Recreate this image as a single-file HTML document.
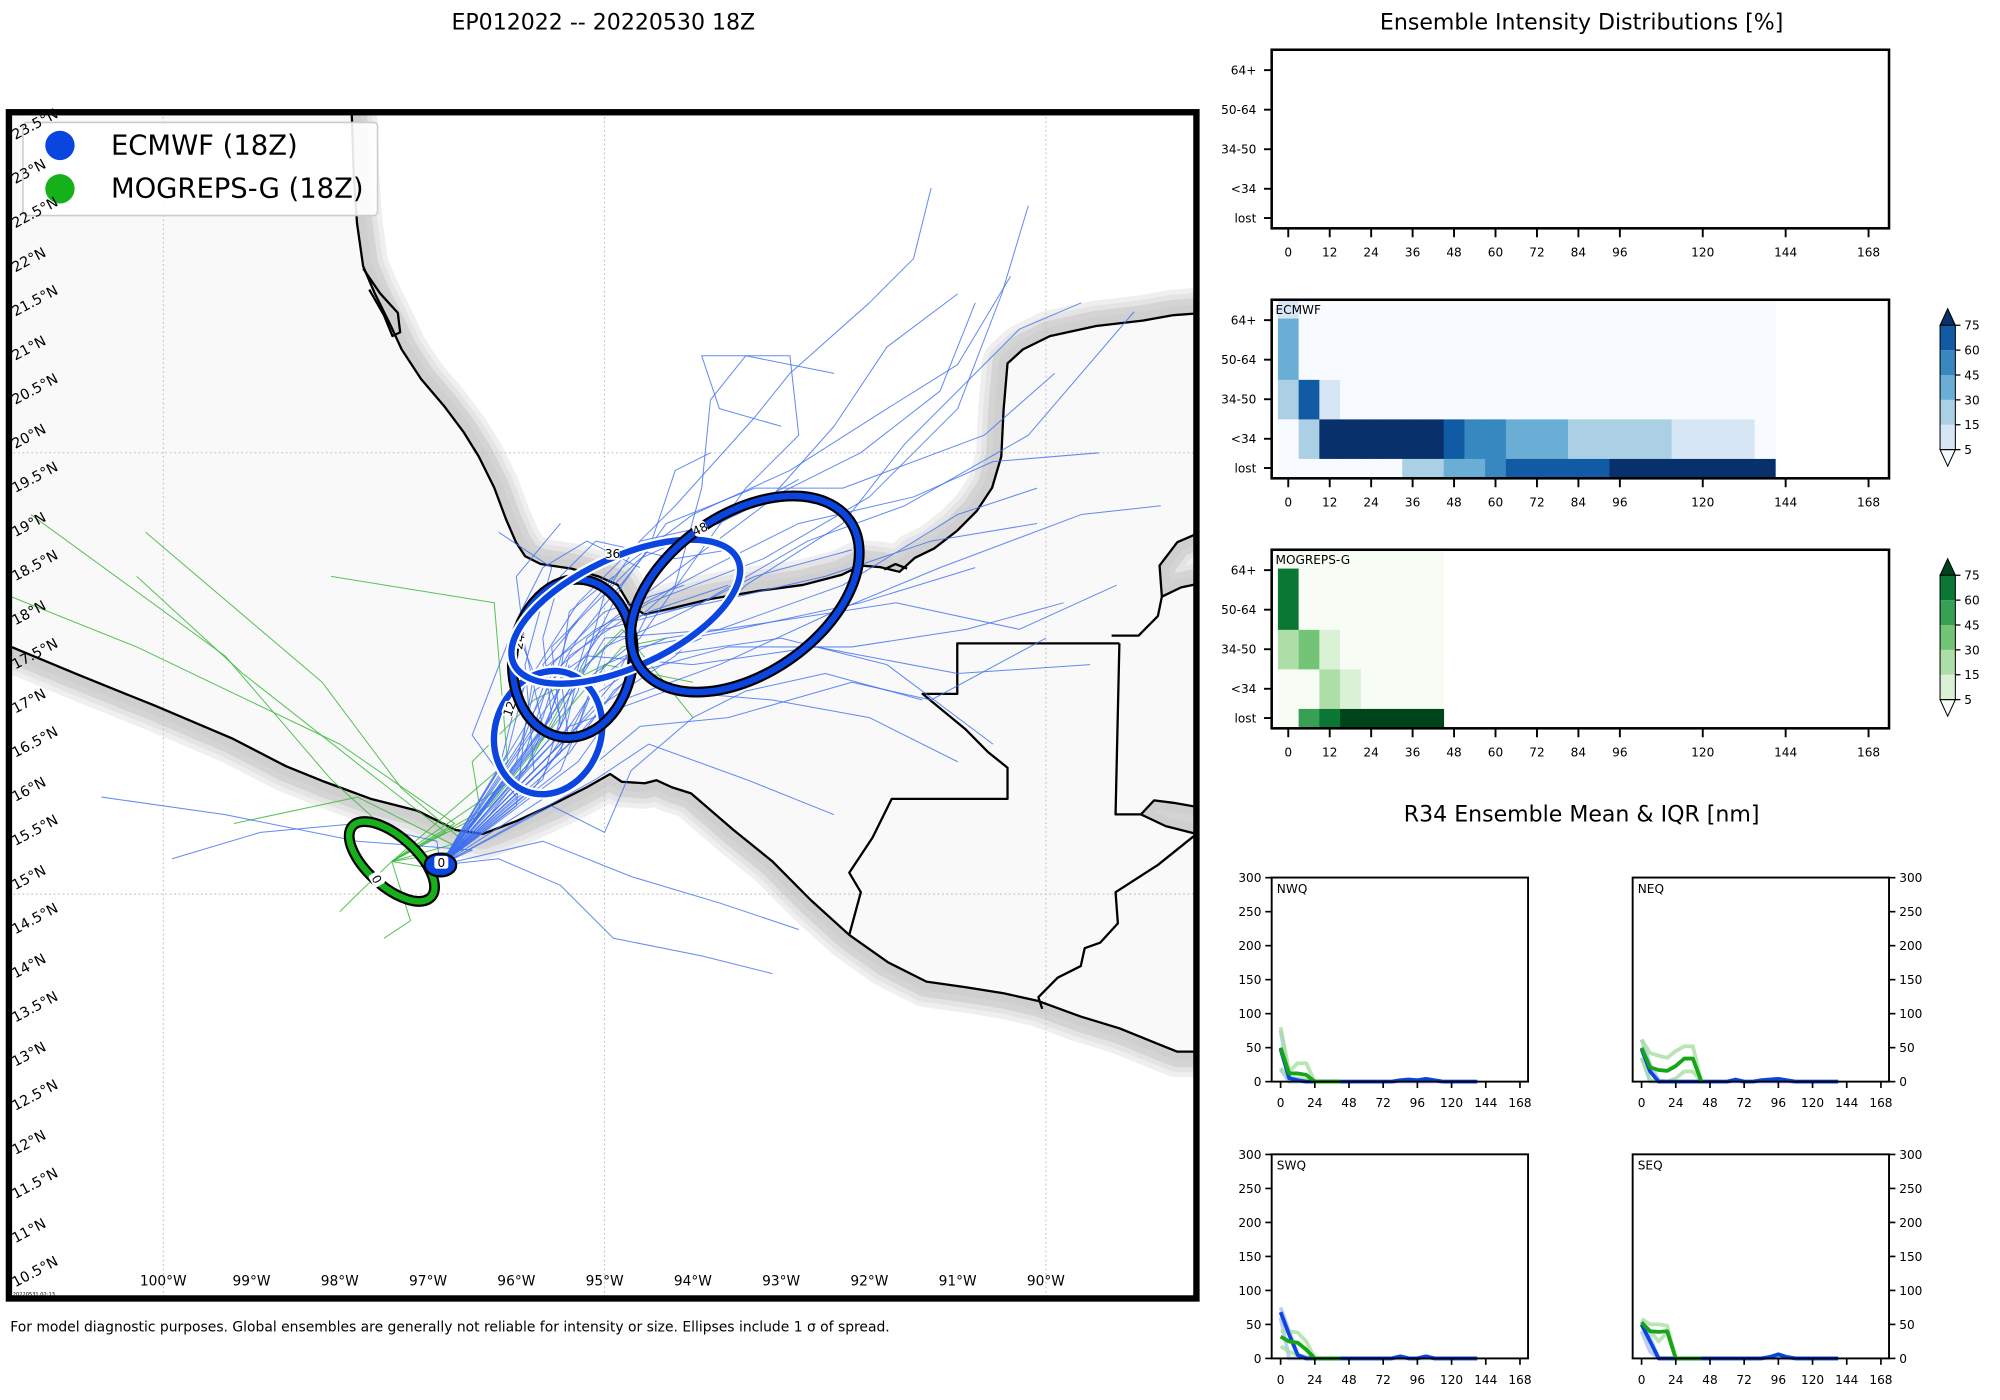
<!DOCTYPE html>
<html><head><meta charset="utf-8"><style>
html,body{margin:0;padding:0;background:#fff;width:2000px;height:1400px;overflow:hidden;}
svg{display:block;font-family:"DejaVu Sans","Liberation Sans",sans-serif;overflow:hidden;}
</style></head><body>
<svg id="fig" width="2000" height="1400" viewBox="0 0 1568 1097.6" preserveAspectRatio="none" xmlns="http://www.w3.org/2000/svg">
<defs>
<clipPath id="mapclip"><rect x="7.5" y="88.5" width="930" height="929"/></clipPath>
<clipPath id="oceanclip"><path id="oceanpath" d=""/></clipPath>
</defs>
<text x="473" y="23" font-size="17.3" text-anchor="middle">EP012022 -- 20220530 18Z</text>
<text x="1240" y="23" font-size="17.3" text-anchor="middle">Ensemble Intensity Distributions [%]</text>
<text x="1240" y="644" font-size="17.3" text-anchor="middle">R34 Ensemble Mean &amp; IQR [nm]</text>
<text x="8" y="1044" font-size="10.9">For model diagnostic purposes. Global ensembles are generally not reliable for intensity or size. Ellipses include 1 σ of spread.</text>
<g id="map"></g>
<g id="heat"></g>
<g id="r34"></g>
</svg>
<script>
// ===== Map data =====
const START_ECM = [-96.86, 15.33];
const START_MOG = [-97.41, 15.37];
const ecmTracks = [
[[-95.7,16.8],[-95.4,17.7],[-94.5,18.3],[-93.2,18.8],[-92.0,19.5],[-91.0,20.5],[-90.5,21.8],[-90.2,22.8]],
[[-95.9,16.6],[-95.6,17.5],[-94.9,18.1],[-93.8,18.3],[-92.5,18.6],[-91.3,19.0],[-90.1,19.2]],
[[-95.5,16.9],[-95.2,17.9],[-94.4,18.5],[-93.2,19.4],[-92.4,20.3],[-91.8,21.2],[-91.0,21.8]],
[[-96.0,16.5],[-95.8,17.3],[-95.2,17.7],[-94.0,17.6],[-92.6,17.8],[-91.0,17.5],[-89.5,17.6]],
[[-95.4,16.8],[-95.0,17.6],[-94.3,17.9],[-93.0,18.1],[-91.7,18.3],[-90.3,18.0],[-89.2,18.5]],
[[-95.6,17.0],[-95.7,17.9],[-95.5,18.6],[-95.1,19.0],[-94.2,18.8],[-93.6,18.9]],
[[-96.2,16.4],[-96.0,17.2],[-95.3,18.3],[-94.2,19.4],[-93.3,20.4],[-92.9,20.9],[-92.0,21.7],[-91.5,22.2],[-91.3,23.0]],
[[-95.8,16.7],[-95.5,17.2],[-94.6,17.9],[-93.9,18.9],[-93.4,19.6],[-92.8,20.2],[-92.9,21.1],[-93.9,21.1],[-93.7,20.5],[-93.0,20.3]],
[[-95.3,16.5],[-94.8,17.2],[-93.7,17.6],[-92.4,18.2],[-91.2,18.7],[-89.6,19.3],[-88.7,19.4]],
[[-95.7,16.9],[-95.9,17.8],[-96.0,18.6],[-95.5,19.2]],
[[-96.0,16.1],[-96.5,16.8],[-96.0,18.1],[-95.7,18.7],[-95.2,19.0],[-94.6,18.7]],
[[-95.2,16.4],[-94.6,16.9],[-93.6,17.0],[-92.2,17.4],[-91.3,17.2],[-90.0,17.9]],
[[-95.5,16.6],[-95.3,17.5],[-94.8,18.5],[-94.3,19.2],[-93.3,19.6],[-92.3,19.6],[-90.7,20.2],[-89.9,20.9]],
[[-95.9,16.6],[-95.2,17.6],[-94.2,18.5],[-93.9,19.6],[-93.8,20.6],[-93.4,21.1],[-92.4,20.9]],
[[-95.4,16.6],[-94.9,17.3],[-94.4,17.7],[-93.0,17.9],[-91.8,17.6],[-90.6,16.7]],
[[-95.1,16.3],[-94.5,16.7],[-93.4,16.3],[-92.4,15.9]],
[[-96.5,15.5],[-97.8,15.6],[-99.3,15.9],[-100.7,16.1]],
[[-96.9,15.6],[-97.8,15.8],[-98.9,15.7],[-99.9,15.4]],
[[-96.2,15.4],[-95.5,15.1],[-94.9,14.5],[-93.9,14.3],[-93.1,14.1]],
[[-95.7,15.6],[-94.7,15.2],[-93.7,14.9],[-92.8,14.6]],
[[-95.6,16.0],[-95.0,15.7],[-94.7,16.4],[-94.0,17.0],[-93.4,17.3],[-92.5,17.5],[-91.4,17.2]],
[[-95.8,16.4],[-95.9,17.6],[-95.6,18.7],[-96.2,19.1]],
[[-95.9,16.9],[-95.3,17.9],[-94.5,18.9],[-94.2,19.8],[-93.8,20.0]],
[[-95.6,17.2],[-95.0,18.0],[-93.9,18.3],[-92.7,19.0],[-91.6,19.4],[-90.2,20.2],[-89.0,21.6]],
[[-95.5,16.9],[-95.6,17.8],[-94.6,18.8],[-93.5,19.3],[-92.1,20.0],[-91.2,20.7],[-90.8,21.7]],
[[-96.1,16.6],[-95.9,17.4],[-95.1,18.0],[-93.8,18.7],[-92.8,19.2],[-91.5,19.5],[-90.6,19.9],[-89.4,20.0]],
[[-95.3,16.8],[-94.7,17.5],[-93.6,17.8],[-92.2,17.8],[-90.9,18.0],[-89.8,18.3]],
[[-96.0,16.3],[-95.4,16.9],[-94.3,17.3],[-93.1,17.2],[-92.0,17.0],[-91.0,16.5]],
[[-95.7,16.5],[-95.1,17.1],[-94.2,17.7],[-93.4,18.5],[-92.3,19.2],[-91.6,20.1],[-90.3,21.4],[-89.6,21.7]],
[[-95.6,16.7],[-95.3,17.3],[-95.0,18.4],[-94.6,19.0],[-93.7,19.2],[-92.8,19.7]],
[[-95.9,16.8],[-95.6,17.6],[-95.0,18.2],[-94.1,18.5]],
[[-95.6,16.6],[-95.2,17.2],[-94.6,17.6],[-93.9,17.9]],
[[-95.4,16.7],[-95.5,17.5],[-95.4,18.2],[-94.9,18.6]],
[[-95.7,16.3],[-95.5,17.0],[-95.7,17.6],[-95.3,18.1]],
[[-96.0,16.0],[-95.9,16.9],[-95.8,17.5],[-96.0,18.0]],
[[-95.3,16.9],[-95.0,17.8],[-94.3,18.1],[-93.3,18.6],[-92.2,18.9]],
[[-95.8,16.2],[-95.4,16.8],[-94.9,17.4],[-94.5,18.2],[-93.6,18.5]],
[[-95.5,16.4],[-95.3,16.9],[-95.1,17.4],[-94.6,17.8],[-93.5,18.0],[-92.1,18.3],[-90.8,18.7]],
[[-96.3,15.9],[-95.9,16.4],[-95.6,17.1],[-95.4,17.6]],
[[-95.6,16.9],[-95.0,17.9],[-93.7,18.0],[-92.3,18.5],[-91.0,19.3],[-90.1,19.6]],
[[-95.7,17.0],[-95.4,18.0],[-94.8,18.7],[-94.0,19.3],[-92.9,19.8],[-91.8,20.5],[-91.0,21.0],[-90.4,22.0]]
];
const mogTracks = [
[[-97.0,15.3],[-98.1,16.3],[-99.3,17.7],[-101.5,19.3]],
[[-96.7,15.8],[-98.0,16.7],[-100.3,17.8],[-101.8,18.4]],
[[-96.8,15.7],[-97.7,16.4],[-99.1,17.5],[-100.3,18.6]],
[[-96.6,15.5],[-97.8,16.1],[-99.2,15.8]],
[[-96.4,15.9],[-96.5,16.5],[-95.8,17.2],[-95.0,17.6],[-94.0,17.4]],
[[-96.3,16.0],[-95.5,17.0],[-94.8,17.8],[-94.3,17.9]],
[[-96.1,16.5],[-96.25,18.3],[-98.1,18.6]],
[[-97.8,15.0],[-98.0,14.8]],
[[-97.2,14.7],[-97.5,14.5]],
[[-95.9,16.4],[-95.3,17.5],[-94.8,18.0],[-94.0,17.0]],
[[-96.6,15.6],[-97.3,16.2],[-98.2,17.4],[-100.2,19.1]]
];
const ellipseLabels = ['0','12','24','36','48'];
const ellipseLon = [-96.86,-95.64,-95.36,-94.76,-93.41];
const ellipseLat = [15.33,16.83,17.67,18.20,18.40];
const ellipseRx = [0.13,0.60,0.68,1.40,1.45];
const ellipseRy = [0.08,0.71,0.90,0.62,0.90];
const ellipseRot = [0,20,8,-25,-35];
const ellipseLabelLon = [-96.85,-96.08,-95.97,-94.91,-93.92];
const ellipseLabelLat = [15.36,17.10,17.86,18.86,19.14];
const mogEllipse = {lon:-97.41, lat:15.37, rx:0.60, ry:0.28, rot:42, labLon:-97.58, labLat:15.17};

const pacificCoast=[[15,705],[100,740],[200,780],[300,822],[370,858],[420,878],[480,900],[540,915],[590,940],[625,945],[670,928],[720,905],[760,885],[790,868],[805,878],[835,880],[850,876],[870,885],[895,893],[950,940],[1000,980],[1050,1030],[1100,1075],[1150,1110],[1200,1135],[1250,1142],[1300,1150],[1345,1160],[1400,1180],[1450,1195],[1500,1215],[1525,1225],[1560,1225]];
const gulfCoast=[[455,10],[458,100],[462,160],[470,215],[485,250],[505,290],[520,322],[545,360],[575,395],[600,428],[620,460],[640,500],[655,540],[668,570],[680,588],[700,598],[740,604],[775,614],[800,625],[815,650],[835,663],[870,655],[920,643],[980,633],[1040,625],[1090,612],[1115,600],[1140,602],[1165,608],[1185,590],[1210,578],[1240,555],[1265,530],[1285,500],[1297,460],[1300,400],[1305,340],[1325,322],[1360,305],[1420,292],[1480,285],[1520,278],[1560,275]];
const carib1=[[1560,555],[1525,570],[1502,600],[1505,640],[1530,628],[1560,622]];
const carib2=[[1560,912],[1520,905],[1495,902],[1478,920],[1510,935],[1550,945],[1560,945]];
const borders=[
[[1100,1075],[1115,1020],[1100,995],[1130,950],[1155,900],[1305,900],[1305,860],[1280,840],[1250,810],[1195,765],[1240,765],[1240,700],[1450,700]],
[[1450,700],[1445,920],[1478,920]],
[[1440,690],[1475,690],[1500,665],[1505,640]],
[[1550,945],[1500,985],[1445,1020],[1448,1060],[1425,1085],[1405,1092],[1400,1115],[1370,1130],[1345,1155],[1350,1170]],
[[470,218],[492,250],[515,275],[518,300],[508,305],[497,278],[478,245]],
[[1145,605],[1160,598],[1175,604]]
];

// ===== Intensity heatmap data (6-hourly bins 0..138 h, % of members) =====
const binHours = [0,6,12,18,24,30,36,42,48,54,60,66,72,78,84,90,96,102,108,114,120,126,132,138];
const intensityRows = ['lost','<34','34-50','50-64','64+'];
const ecmLost  = [0,0,0,0,0,0,20,20,35,35,50,65,65,65,65,65,85,85,85,85,85,85,85,85];
const ecmLt34  = [0,20,85,85,85,85,85,85,65,50,50,35,35,35,20,20,20,20,20,10,10,10,10,0];
const ecm3450  = [20,65,10,0,0,0,0,0,0,0,0,0,0,0,0,0,0,0,0,0,0,0,0,0];
const ecm5064  = [35,0,0,0,0,0,0,0,0,0,0,0,0,0,0,0,0,0,0,0,0,0,0,0];
const ecm64    = [10,0,0,0,0,0,0,0,0,0,0,0,0,0,0,0,0,0,0,0,0,0,0,0];
const mogLost  = [0,50,65,85,85,85,85,85];
const mogLt34  = [0,0,20,10,0,0,0,0];
const mog3450  = [20,35,10,0,0,0,0,0];
const mog5064  = [65,0,0,0,0,0,0,0];
const mog64    = [0,0,0,0,0,0,0,0];
const cbLevels = [5,15,30,45,60,75];
const xTicks = [0,12,24,36,48,60,72,84,96,120,144,168];

// ===== R34 data (nm), 6-hourly =====
const r34Hours = [0,6,12,18,24,30,36,42,48,54,60,66,72,78,84,90,96,102,108,114,120,126,132,138];
const nwEcmMean=[48,5,2,0,0,0,0,0,0,0,0,0,0,0,2,3,2,4,2,0,0,0,0,0];
const nwEcmHi  =[75,6,2,0,0,0,0,0,0,0,0,0,0,0,2,3,2,4,2,0,0,0,0,0];
const nwEcmLo  =[18,0,0,0,0,0,0,0,0,0,0,0,0,0,0,0,0,0,0,0,0,0,0,0];
const nwMogMean=[50,12,12,10,0,0,0,0];
const nwMogHi  =[80,15,27,27,0,0,0,0];
const nwMogLo  =[20,5,5,3,0,0,0,0];
const neEcmMean=[48,15,0,0,0,0,0,0,0,0,0,3,0,0,2,3,4,2,0,0,0,0,0,0];
const neEcmHi  =[62,25,2,0,0,0,0,0,0,0,0,3,0,0,2,3,4,2,0,0,0,0,0,0];
const neEcmLo  =[35,0,0,0,0,0,0,0,0,0,0,0,0,0,0,0,0,0,0,0,0,0,0,0];
const neMogMean=[50,21,17,16,23,34,34,0];
const neMogHi  =[62,42,38,35,45,52,52,0];
const neMogLo  =[35,2,0,0,5,15,15,0];
const swEcmMean=[68,35,5,0,0,0,0,0,0,0,0,0,0,0,3,0,0,3,0,0,0,0,0,0];
const swEcmHi  =[75,40,5,0,0,0,0,0,0,0,0,0,0,0,3,0,0,3,0,0,0,0,0,0];
const swEcmLo  =[60,0,0,0,0,0,0,0,0,0,0,0,0,0,0,0,0,0,0,0,0,0,0,0];
const swMogMean=[32,25,23,13,0,0,0,0];
const swMogHi  =[40,40,38,25,0,0,0,0];
const swMogLo  =[18,10,5,2,0,0,0,0];
const seEcmMean=[50,25,0,0,0,0,0,0,0,0,0,0,0,0,0,2,6,2,0,0,0,0,0,0];
const seEcmHi  =[55,30,0,0,0,0,0,0,0,0,0,0,0,0,0,2,6,2,0,0,0,0,0,0];
const seEcmLo  =[40,10,0,0,0,0,0,0,0,0,0,0,0,0,0,0,0,0,0,0,0,0,0,0];
const seMogMean=[53,40,39,40,0,0,0,0];
const seMogHi  =[58,50,50,48,0,0,0,0];
const seMogLo  =[45,40,25,38,0,0,0,0];
const r34YTicks=[0,50,100,150,200,250,300];
const r34XTicks=[0,24,48,72,96,120,144,168];

// ===== helpers =====
const NS='http://www.w3.org/2000/svg';
function mk(tag,attrs,parent){const e=document.createElementNS(NS,tag);for(const k in attrs)e.setAttribute(k,attrs[k]);parent.appendChild(e);return e;}
function lonX(lon){return 128+(lon+100)*69.2;}
function latY(lat){return 355-(lat-20)*69.2;}
function zx(x){return 128+(x-211)*0.605;}
function zy(y){return 355+(y-455)*0.6097;}
function zpath(pts){return pts.map((p,i)=>(i?'L':'M')+zx(p[0]).toFixed(1)+','+zy(p[1]).toFixed(1)).join('');}
function llpath(pts){return pts.map((p,i)=>(i?'L':'M')+lonX(p[0]).toFixed(1)+','+latY(p[1]).toFixed(1)).join('');}

// ===== MAP =====
const map=document.getElementById('map');
const mg=mk('g',{'clip-path':'url(#mapclip)'},map);
const land=mk('rect',{x:7,y:88,width:931,height:930,fill:'#f9f9f9'},mg);


const oceanD=zpath(pacificCoast)+'L945,1020L0,1020L0,'+zy(705)+'Z'+
 zpath(gulfCoast)+'L945,80L'+zx(455)+',80Z'+zpath(carib1)+'L945,500Z'+zpath(carib2)+'Z';
document.getElementById('oceanpath').setAttribute('d',oceanD);
const ocean=mk('path',{d:oceanD,fill:'#ffffff'},mg);


const band=mk('g',{'clip-path':'url(#oceanclip)',fill:'none','stroke-linejoin':'round'},mg);


[[40,'#efefef'],[32,'#e4e4e4'],[24,'#d4d4d4'],[14,'#cfcfcf']].forEach(([w,c])=>{
  [pacificCoast,gulfCoast,carib1,carib2].forEach(cst=>{mk('path',{d:zpath(cst),stroke:c,'stroke-width':w},band);});
});
const grid=mk('g',{stroke:'#bbbbbb','stroke-width':0.7,'stroke-dasharray':'1.5,2'},mg);


for(let lon=-100;lon<=-90;lon+=5) mk('line',{x1:lonX(lon),y1:88,x2:lonX(lon),y2:1018},grid);
for(let lat=15;lat<=20;lat+=5) mk('line',{x1:7,y1:latY(lat),x2:938,y2:latY(lat)},grid);
const cl=mk('g',{fill:'none',stroke:'#000','stroke-width':1.8,'stroke-linejoin':'round'},mg);


[pacificCoast,gulfCoast,carib1,carib2].forEach(c=>mk('path',{d:zpath(c)},cl));
borders.forEach(b=>mk('path',{d:zpath(b)},cl));
const tg=mk('g',{fill:'none','stroke-width':0.8,'stroke-linejoin':'round'},mg);


mogTracks.forEach(t=>{const p=mk('path',{d:llpath([START_MOG].concat(t)),stroke:'#3cb83c','stroke-opacity':0.85},tg);

});
ecmTracks.forEach(t=>{const p=mk('path',{d:llpath([START_ECM].concat(t)),stroke:'#3d6ef0','stroke-opacity':0.8},tg);

});
function ring(cx,cy,rx,ry,rot,outer,inner,fillInner){
  const g=mk('g',{transform:`rotate(${rot} ${cx} ${cy})`},mg);
  mk('ellipse',{cx,cy,rx,ry,fill:fillInner||'none',stroke:outer,'stroke-width':8.5},g);
  mk('ellipse',{cx,cy,rx,ry,fill:fillInner||'none',stroke:inner,'stroke-width':5},g);
  return g;
}
function lab(x,y,t,rot){
  const g=mk('g',{transform:`translate(${x},${y}) rotate(${rot})`},mg);
  mk('rect',{x:-5.5,y:-5,width:11,height:10,fill:'#fff',rx:2},g);
  const tx=mk('text',{x:0,y:3.5,'font-size':9.5,'text-anchor':'middle'},g);tx.textContent=t;
  return g;
}
const mr=ring(lonX(mogEllipse.lon),latY(mogEllipse.lat),mogEllipse.rx*69.2,mogEllipse.ry*69.2,mogEllipse.rot,'#000','#15b01a');


const ml=lab(lonX(mogEllipse.labLon),latY(mogEllipse.labLat),'0',60);


ellipseLabels.forEach((L,i)=>{
  const white=(i===1||i===3);
  const g=ring(lonX(ellipseLon[i]),latY(ellipseLat[i]),ellipseRx[i]*69.2,ellipseRy[i]*69.2,ellipseRot[i],white?'#fff':'#000','#0b45e0',i===0?'#0b45e0':null);
  
  
  const rot=[0,-70,-80,0,-25][i];
  const l=lab(lonX(ellipseLabelLon[i]),latY(ellipseLabelLat[i]),L,rot);
  
  
});
const lg=mk('g',{},map);


mk('rect',{x:18,y:96,width:278,height:73,rx:3,fill:'#fff','fill-opacity':0.9,stroke:'#cccccc','stroke-width':1.2},lg);
[['ECMWF (18Z)','#0b45e0',114],['MOGREPS-G (18Z)','#15b01a',148]].forEach(([t,c,y])=>{
  const e=mk('g',{},lg);
  
  
  mk('circle',{cx:47,cy:y,r:11.5,fill:c},e);
  const tx=mk('text',{x:87,y:y+7,'font-size':21.5},e);tx.textContent=t;
});
const fr=mk('rect',{x:7,y:88,width:931,height:930,fill:'none',stroke:'#000','stroke-width':5},map);


for(let k=0;k<=26;k++){
  const lat=10.5+k*0.5;
  const s=(lat%1===0?lat.toFixed(0):lat.toFixed(1))+'°N';
  const y=latY(lat)-3;
  const t=mk('text',{x:12,y:y,'font-size':11.2,transform:`rotate(-28 12 ${y})`},map);
  t.textContent=s;
  
  
}
for(let lon=-100;lon<=-90;lon++){
  const t=mk('text',{x:lonX(lon),y:1008,'font-size':10.8,'text-anchor':'middle'},map);
  t.textContent=(-lon)+'°W';
  
  
}
const ts=mk('text',{x:10,y:1016,'font-size':4},map);ts.textContent='20220531 02:13';



// ===== HEATMAPS =====
const heat=document.getElementById('heat');
const blues=['#f7fbff','#d6e6f4','#abd0e6','#6aaed6','#3787c0','#105ba4','#08306b'];
const greens=['#f7fcf5','#dbf1d5','#aedea7','#73c476','#37a055','#0b7734','#00441b'];
const rowEdges=[0,0.5,1.5,2.5,4.05,4.52];
const rowTickV=[0.26,1,2,3,4];
const rowTickLabels=['lost','<34','34-50','50-64','64+'];
function hx(t){return 1010+t*2.708;}
function colorIdx(v){let i=0;for(const l of cbLevels){if(v>=l)i++;}return i;}
function heatPanel(top,name,rows,pal,label){
  const bottom=top+140;
  const hy=v=>bottom-v*31;
  const g=mk('g',{},heat);
  
  
  if(rows){rows.forEach((arr,r)=>{arr.forEach((v,c)=>{
    const x0=hx(binHours[c]-3),x1=hx(binHours[c]+3);
    const cell=mk('rect',{x:x0,y:hy(rowEdges[r+1]),width:x1-x0+0.3,height:hy(rowEdges[r])-hy(rowEdges[r+1])+0.3,fill:pal[colorIdx(v)]},g);
    
    
  });});}
  mk('rect',{x:997,y:top,width:484,height:140,fill:'none',stroke:'#000','stroke-width':2},g);
  if(label){const t=mk('text',{x:1000,y:top+11,'font-size':9.5},g);t.textContent=label;}
  rowTickV.forEach((v,i)=>{mk('line',{x1:991,x2:997,y1:hy(v),y2:hy(v),stroke:'#000','stroke-width':1.5},g);
    const t=mk('text',{x:985,y:hy(v)+3.5,'font-size':9.5,'text-anchor':'end'},g);t.textContent=rowTickLabels[i];});
  xTicks.forEach(tk=>{mk('line',{x1:hx(tk),x2:hx(tk),y1:bottom,y2:bottom+7,stroke:'#000','stroke-width':1.5},g);
    const t=mk('text',{x:hx(tk),y:bottom+22,'font-size':9.5,'text-anchor':'middle'},g);t.textContent=tk;});
}
heatPanel(39,'intensity-panel-empty',null,blues,null);
heatPanel(235,'intensity-panel-ecmwf',[ecmLost,ecmLt34,ecm3450,ecm5064,ecm64],blues,'ECMWF');
heatPanel(431,'intensity-panel-mogreps',[mogLost,mogLt34,mog3450,mog5064,mog64],greens,'MOGREPS-G');
function colorbar(top,pal,name){
  const g=mk('g',{},heat);
  
  
  const x=1521,w=12,seg=19.5,y0=top+13;
  const yb=y0+seg*5;
  mk('path',{d:`M${x},${y0}L${x+w/2},${top}L${x+w},${y0}Z`,fill:pal[6],stroke:'#000','stroke-width':0.8},g);
  for(let i=0;i<5;i++) mk('rect',{x:x,y:yb-(i+1)*seg,width:w,height:seg,fill:pal[i+1]},g);
  mk('path',{d:`M${x},${yb}L${x+w/2},${yb+13}L${x+w},${yb}Z`,fill:pal[0],stroke:'#000','stroke-width':0.8},g);
  mk('rect',{x:x,y:y0,width:w,height:yb-y0,fill:'none',stroke:'#000','stroke-width':0.8},g);
  cbLevels.forEach((l,i)=>{const y=yb-i*seg;mk('line',{x1:x+w,x2:x+w+4,y1:y,y2:y,stroke:'#000','stroke-width':1},g);
    const t=mk('text',{x:x+w+7,y:y+3.5,'font-size':9.5},g);t.textContent=l;});
}
colorbar(242,blues,'ecmwf-colorbar');
colorbar(438,greens,'mogreps-colorbar');

// ===== R34 =====
const r34=document.getElementById('r34');
function r34Panel(bx,by,name,label,right,ecm,mog){
  const x0=bx+7,bottom=by+160;
  const X=t=>x0+t*1.117, Y=v=>bottom-v*0.533;
  const g=mk('g',{},r34);
  
  
  const line=(arr,c,w,op,nm)=>{const d=arr.map((v,i)=>(i?'L':'M')+X(r34Hours[i]).toFixed(1)+','+Y(v).toFixed(1)).join('');
    const p=mk('path',{d,fill:'none',stroke:c,'stroke-width':w,'stroke-opacity':op,'stroke-linejoin':'round'},g);
    
    };
  line(ecm[1],'#7c9ce8',3,0.5,'ecmwf-iqr-upper');line(ecm[2],'#7c9ce8',3,0.5,'ecmwf-iqr-lower');
  line(mog[1],'#a6dfa0',3,0.8,'mogreps-iqr-upper');line(mog[2],'#a6dfa0',3,0.8,'mogreps-iqr-lower');
  line(ecm[0],'#0b45e0',3,1,'ecmwf-mean');line(mog[0],'#16a516',3,1,'mogreps-mean');
  mk('rect',{x:bx,y:by,width:201,height:160,fill:'none',stroke:'#000','stroke-width':1.5},g);
  const t=mk('text',{x:bx+4,y:by+12,'font-size':9.5},g);t.textContent=label;
  r34YTicks.forEach(v=>{const ax=right?bx+201:bx;mk('line',{x1:ax,x2:right?ax+5:ax-5,y1:Y(v),y2:Y(v),stroke:'#000','stroke-width':1.3},g);
    const tt=mk('text',{x:right?ax+8:ax-8,y:Y(v)+3.5,'font-size':9.5,'text-anchor':right?'start':'end'},g);tt.textContent=v;});
  r34XTicks.forEach(v=>{mk('line',{x1:X(v),x2:X(v),y1:bottom,y2:bottom+5,stroke:'#000','stroke-width':1.3},g);
    const tt=mk('text',{x:X(v),y:bottom+20,'font-size':9.5,'text-anchor':'middle'},g);tt.textContent=v;});
}
r34Panel(997,688,'r34-nwq','NWQ',false,[nwEcmMean,nwEcmHi,nwEcmLo],[nwMogMean,nwMogHi,nwMogLo]);
r34Panel(1280,688,'r34-neq','NEQ',true,[neEcmMean,neEcmHi,neEcmLo],[neMogMean,neMogHi,neMogLo]);
r34Panel(997,905,'r34-swq','SWQ',false,[swEcmMean,swEcmHi,swEcmLo],[swMogMean,swMogHi,swMogLo]);
r34Panel(1280,905,'r34-seq','SEQ',true,[seEcmMean,seEcmHi,seEcmLo],[seMogMean,seMogHi,seMogLo]);
</script>
</body></html>
